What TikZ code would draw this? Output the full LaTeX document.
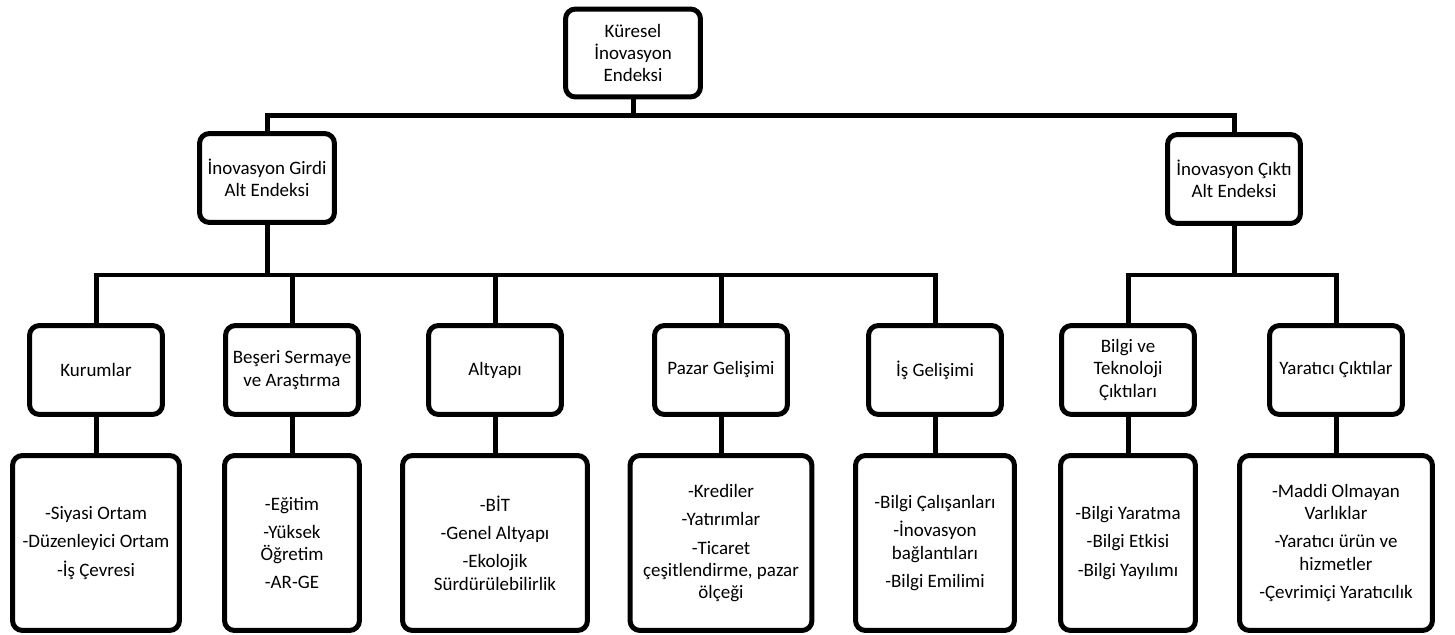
\documentclass[tikz,border=0pt]{standalone}
\usepackage{fontspec}
\setmainfont{Carlito}
\usetikzlibrary{positioning}

\tikzset{
  kutu/.style={draw, line width=0.1cm, rounded corners=0.2cm, align=center,
    inner sep=2pt, fill=white, font=\fontsize{10.8}{12.6}\selectfont},
  orta/.style={kutu, minimum width=2.66cm, minimum height=1.78cm},
  liste/.style={kutu, minimum height=3.5cm},
  hat/.style={line width=0.1cm},
}

\begin{document}
\begin{tikzpicture}[x=0.02cm, y=-0.02cm]

    \useasboundingbox (0,0) rectangle (1455,635); % page size

    % top level
    \node[kutu, minimum width=2.7cm, minimum height=1.76cm] (kgi) at (633,53)
        {Küresel\\İnovasyon\\Endeksi};

    % sub indices
    \node[kutu, minimum width=2.7cm, minimum height=1.78cm] (girdi) at (267,178)
        {İnovasyon Girdi\\Alt Endeksi};
    \node[kutu, minimum width=2.66cm, minimum height=1.78cm] (cikti) at (1234,179)
        {İnovasyon Çıktı\\Alt Endeksi};

    % pillars
    \node[orta] (kurum)    at (96,370)   {Kurumlar};
    \node[orta] (beseri)   at (292,370)  {Beşeri Sermaye\\ve Araştırma};
    \node[orta] (altyapi)  at (495,370)  {Altyapı};
    \node[orta] (pazar)    at (721,370)  {Pazar Gelişimi};
    \node[orta] (isgel)    at (935,370)  {İş Gelişimi};
    \node[orta] (bilgi)    at (1128,370) {Bilgi ve\\Teknoloji\\Çıktıları};
    \node[orta] (yaratici) at (1336,370) {Yaratıcı Çıktılar};

    % sub pillars
    \node[liste, minimum width=3.34cm] (kurumListe) at (96,543)
        {-Siyasi Ortam\\[3.5pt]-Düzenleyici Ortam\\[3.5pt]-İş Çevresi};
    \node[liste, minimum width=2.7cm] (beseriListe) at (292,543)
        {-Eğitim\\[3.5pt]-Yüksek\\Öğretim\\[3.5pt]-AR-GE};
    \node[liste, minimum width=3.7cm] (altyapiListe) at (495,543)
        {-BİT\\[3.5pt]-Genel Altyapı\\[3.5pt]-Ekolojik\\Sürdürülebilirlik};
    \node[liste, minimum width=3.64cm] (pazarListe) at (721,543)
        {-Krediler\\[3.5pt]-Yatırımlar\\[3.5pt]-Ticaret\\çeşitlendirme, pazar\\ölçeği};
    \node[liste, minimum width=3.18cm] (isgelListe) at (935,543)
        {-Bilgi Çalışanları\\[3.5pt]-İnovasyon\\bağlantıları\\[3.5pt]-Bilgi Emilimi};
    \node[liste, minimum width=2.7cm] (bilgiListe) at (1128,543)
        {-Bilgi Yaratma\\[3.5pt]-Bilgi Etkisi\\[3.5pt]-Bilgi Yayılımı};
    \node[liste, minimum width=3.86cm] (yaraticiListe) at (1336,543)
        {-Maddi Olmayan\\Varlıklar\\[3.5pt]-Yaratıcı ürün ve\\hizmetler\\[3.5pt]-Çevrimiçi Yaratıcılık};

    % bus lines
    \coordinate (ustHat) at (0,116);
    \coordinate (altHat) at (0,275);

    \draw[hat] (kgi.south) -- (kgi.south |- ustHat) -| (girdi.north);
    \draw[hat] (kgi.south |- ustHat) -| (cikti.north);

    \foreach \n in {kurum,beseri,altyapi,pazar,isgel}{% input pillars
      \draw[hat] (girdi.south) -- (girdi.south |- altHat) -| (\n.north);
    }
    \foreach \n in {bilgi,yaratici}{% output pillars
      \draw[hat] (cikti.south) -- (cikti.south |- altHat) -| (\n.north);
    }
    \foreach \n in {kurum,beseri,altyapi,pazar,isgel,bilgi,yaratici}{% down to the lists
      \draw[hat] (\n.south) -- (\n Liste.north);
    }

\end{tikzpicture}
\end{document}
